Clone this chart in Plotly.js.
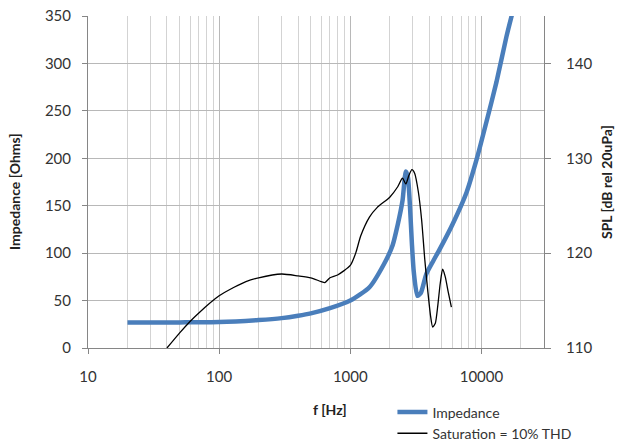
<!DOCTYPE html>
<html>
<head>
<meta charset="utf-8">
<script src="https://cdn.plot.ly/plotly-3.0.1.min.js"></script>
<style>html,body{margin:0;padding:0;background:#fff;}#chart{width:618px;height:442px;}</style>
</head>
<body>
<div id="chart"></div>
<script>
// Impedance curve (left axis, Ohms)
const impFreq = [20, 30, 50, 100, 200, 300, 400, 500, 700, 1000, 1400, 1800, 2100, 2300, 2500, 2650, 2750, 2850, 2950, 3050, 3250, 3450, 3800, 4300, 4800, 6000, 7700, 9200, 10900, 13000, 15500, 17500];
const impOhms = [27, 27, 27, 27.3, 29.5, 31.5, 34, 36.5, 42, 50, 64, 88, 108, 130, 155, 186, 180, 150, 110, 80, 55, 58, 78, 92, 104, 130, 164, 199, 238, 280, 328, 357];

// Saturation = 10% THD curve (right axis, dB SPL)
const satFreq = [40, 50, 60, 70, 100, 130, 160, 200, 300, 400, 500, 600, 640, 700, 800, 1000, 1100, 1200, 1400, 1600, 2000, 2300, 2500, 2650, 2800, 2950, 3100, 3300, 3500, 3700, 3900, 4100, 4250, 4450, 4650, 4850, 5060, 5300, 5600, 5900];
const satSPL = [110, 111.6, 112.8, 113.7, 115.5, 116.4, 117.0, 117.4, 117.8, 117.6, 117.4, 117.0, 116.9, 117.4, 117.7, 118.7, 120, 121.8, 123.8, 124.8, 125.9, 127, 127.9, 127.3, 128.2, 128.8, 128.4, 126.5, 123.5, 119.3, 116, 113.3, 112.2, 112.6, 114.5, 116.8, 118.3, 117.5, 115.8, 114.3];

// Tick labels
const xTickVals = [10, 100, 1000, 10000];
const xTickText = ['10', '100', '1000', '10000'];
const yLeftTicks = [0, 50, 100, 150, 200, 250, 300, 350];
const yRightTicks = [110, 120, 130, 140];

const FONT = 'Lato, "Open Sans", sans-serif';

const traces = [
  {
    x: impFreq, y: impOhms, name: 'Impedance', type: 'scatter', mode: 'lines',
    line: {color: '#4a7ebb', width: 4.5, shape: 'spline', smoothing: 0.6},
    yaxis: 'y', hoverinfo: 'skip'
  },
  {
    x: satFreq, y: satSPL, name: 'Saturation = 10% THD', type: 'scatter', mode: 'lines',
    line: {color: '#000000', width: 1.3, shape: 'spline', smoothing: 0.6},
    yaxis: 'y2', hoverinfo: 'skip'
  }
];

const layout = {
  width: 618, height: 442,
  margin: {l: 88, r: 74, t: 16, b: 94, autoexpand: false},
  paper_bgcolor: '#ffffff', plot_bgcolor: '#ffffff',
  font: {family: FONT, size: 15, color: '#333333'},
  showlegend: true,
  legend: {
    xref: 'container', yref: 'container',
    x: 0.635, y: 0.103, xanchor: 'left', yanchor: 'top',
    bgcolor: 'rgba(0,0,0,0)', font: {family: FONT, size: 14, color: '#333333'},
    tracegroupgap: 0
  },
  xaxis: {
    type: 'log', range: [1, Math.log10(30000)], automargin: false,
    tickvals: xTickVals, ticktext: xTickText,
    ticks: 'outside', ticklen: 5, tickcolor: '#868686',
    showline: true, linecolor: '#868686', linewidth: 1, mirror: false,
    showgrid: true, gridcolor: '#b8b8b8', gridwidth: 1,
    minor: {dtick: 'D1', showgrid: true, gridcolor: '#d3d3d3', gridwidth: 1, ticks: ''},
    tickfont: {family: FONT, size: 15, color: '#333333'},
    ticklabelstandoff: 10,
    zeroline: false, fixedrange: true
  },
  yaxis: {
    range: [0, 350], tickvals: yLeftTicks, automargin: false,
    ticks: 'outside', ticklen: 5, tickcolor: '#868686',
    showline: true, linecolor: '#868686', linewidth: 1,
    showgrid: true, gridcolor: '#b8b8b8', gridwidth: 1,
    tickfont: {family: FONT, size: 15, color: '#333333'},
    ticklabelstandoff: 8,
    zeroline: false, fixedrange: true
  },
  yaxis2: {
    range: [110, 145], tickvals: yRightTicks, automargin: false,
    overlaying: 'y', side: 'right',
    ticks: 'outside', ticklen: 6, tickcolor: '#868686',
    showline: true, linecolor: '#868686', linewidth: 1,
    showgrid: false,
    tickfont: {family: FONT, size: 15, color: '#333333'},
    ticklabelstandoff: 12,
    zeroline: false, fixedrange: true
  },
  annotations: [
    {text: '<b>Impedance [Ohms]</b>', xref: 'paper', yref: 'paper', x: -0.16, y: 0.47,
     xanchor: 'center', yanchor: 'middle', textangle: -90, showarrow: false,
     font: {family: FONT, size: 14, color: '#222222'}},
    {text: '<b>SPL [dB rel 20uPa]</b>', xref: 'paper', yref: 'paper', x: 1.136, y: 0.5,
     xanchor: 'center', yanchor: 'middle', textangle: -90, showarrow: false,
     font: {family: FONT, size: 14, color: '#222222'}},
    {text: '<b>f [Hz]</b>', xref: 'paper', yref: 'paper', x: 0.53, y: -0.185,
     xanchor: 'center', yanchor: 'middle', showarrow: false,
     font: {family: FONT, size: 14, color: '#222222'}}
  ]
};

Plotly.newPlot('chart', traces, layout, {staticPlot: true, displayModeBar: false});
</script>
</body>
</html>
